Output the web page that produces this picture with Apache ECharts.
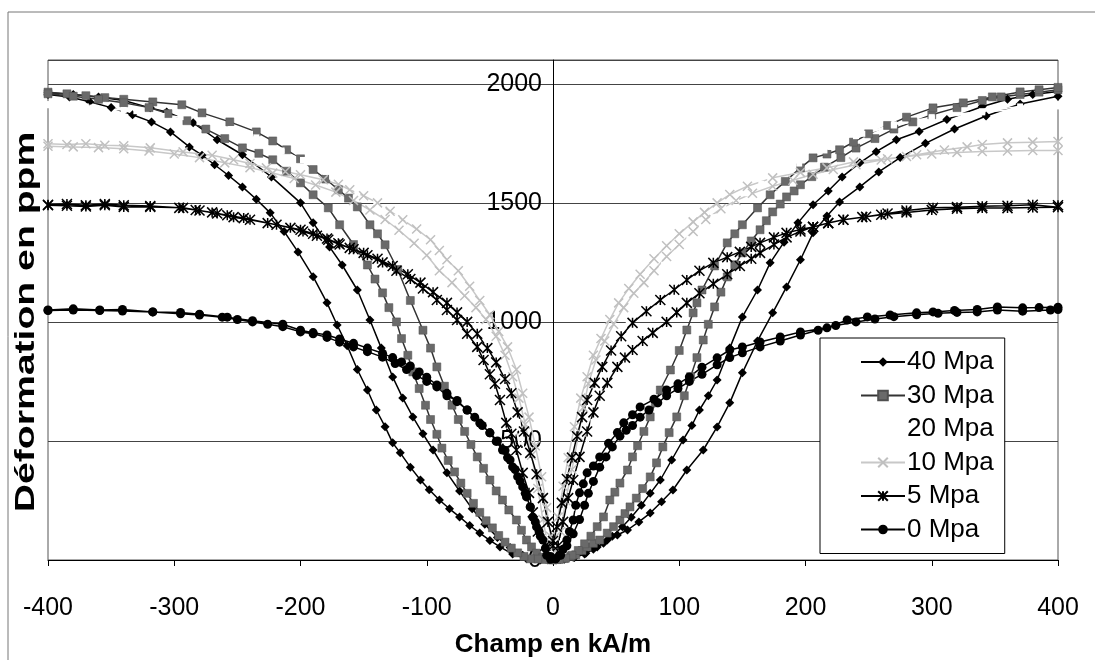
<!DOCTYPE html>
<html><head><meta charset="utf-8">
<script src="https://cdn.jsdelivr.net/npm/echarts@6/dist/echarts.min.js"></script>
<style>html,body{margin:0;padding:0;background:#fff}#c{width:1095px;height:660px}</style>
</head><body><div id="c"></div><script>
// Tick / axis definitions
const xTicks = [-400,-300,-200,-100,0,100,200,300,400];
const yTicks = [0,500,1000,1500,2000];
const seriesNames = ['40 Mpa','30 Mpa','20 Mpa','10 Mpa','5 Mpa','0 Mpa'];

// Each series: branch with increasing field (-400 -> 400) and decreasing field (400 -> -400), [H (kA/m), strain (ppm)]
const s40_up = [[-400,1962],[-380,1955],[-360,1945],[-340,1930],[-319,1899],[-306,1882],[-285,1836],[-266,1765],[-246,1702],[-223,1609],[-200,1500],[-190,1416],[-177,1315],[-167,1239],[-155,1134],[-145,1008],[-136,890],[-127,769],[-119,680],[-111,601],[-103,530],[-95,462],[-84,366],[-74,290],[-64,215],[-54,150],[-44,95],[-34,52],[-24,20],[-14,5],[-4,0],[6,3],[16,12],[26,28],[35,55],[43,84],[51,105],[59,126],[68,160],[77,197],[86,245],[95,294],[106,378],[119,462],[130,559],[140,660],[150,786],[162,920],[174,1038],[185,1147],[196,1261],[206,1374],[217,1445],[227,1504],[243,1567],[258,1630],[275,1690],[295,1750],[318,1810],[343,1865],[370,1915],[400,1948]];
const s40_down = [[400,1968],[380,1955],[360,1935],[340,1905],[312,1850],[290,1800],[272,1765],[256,1715],[243,1668],[229,1609],[218,1550],[206,1492],[194,1416],[183,1335],[172,1248],[162,1134],[150,1021],[140,890],[130,756],[123,690],[116,630],[110,565],[103,504],[94,420],[85,336],[77,280],[70,230],[62,180],[55,140],[47,100],[40,70],[32,45],[25,25],[17,10],[9,3],[0,0],[-10,0],[-21,5],[-32,25],[-42,55],[-50,82],[-58,113],[-66,145],[-74,181],[-82,215],[-90,252],[-98,295],[-105,336],[-113,390],[-121,450],[-127,492],[-133,560],[-140,630],[-147,714],[-155,800],[-163,900],[-171,987],[-179,1080],[-190,1190],[-202,1294],[-213,1380],[-224,1458],[-235,1515],[-246,1567],[-257,1615],[-268,1660],[-278,1700],[-288,1735],[-303,1798],[-318,1840],[-333,1870],[-350,1900],[-367,1925],[-383,1945],[-400,1955]];

const s30_up = [[-400,1965],[-385,1958],[-370,1950],[-355,1942],[-340,1935],[-317,1924],[-294,1912],[-278,1878],[-256,1840],[-235,1798],[-222,1760],[-211,1723],[-200,1685],[-190,1640],[-180,1600],[-170,1555],[-162,1520],[-155,1483],[-145,1408],[-139,1370],[-133,1324],[-123,1220],[-113,1090],[-103,965],[-97,890],[-92,811],[-86,730],[-80,650],[-75,590],[-70,540],[-65,485],[-60,433],[-55,385],[-50,336],[-45,290],[-40,252],[-35,210],[-29,168],[-25,125],[-21,84],[-17,55],[-13,29],[-8,12],[-3,4],[3,2],[9,6],[14,15],[18,22],[23,40],[27,55],[32,70],[37,84],[43,113],[48,140],[53,168],[57,195],[61,223],[66,260],[71,300],[77,349],[82,408],[87,475],[92,535],[98,601],[104,690],[109,770],[114,850],[119,924],[123,990],[128,1063],[133,1125],[138,1189],[144,1240],[150,1290],[157,1340],[164,1387],[169,1425],[174,1462],[180,1495],[185,1525],[191,1550],[196,1576],[205,1610],[215,1650],[228,1690],[240,1730],[255,1770],[270,1810],[285,1840],[300,1870],[320,1900],[340,1930],[355,1945],[370,1955],[385,1965],[400,1975]];
const s30_down = [[400,1985],[385,1975],[370,1966],[348,1945],[325,1920],[301,1899],[280,1860],[265,1825],[250,1790],[238,1755],[227,1723],[217,1705],[206,1689],[196,1647],[184,1590],[172,1534],[162,1479],[150,1408],[144,1370],[138,1332],[128,1235],[118,1134],[114,1080],[111,1038],[106,966],[100,880],[93,798],[85,714],[81,660],[77,601],[72,540],[67,480],[63,433],[59,378],[53,323],[49,285],[45,252],[40,181],[35,140],[30,100],[25,68],[20,40],[15,20],[10,8],[5,2],[0,0],[-6,2],[-12,4],[-18,5],[-23,15],[-28,30],[-33,50],[-38,75],[-43,103],[-48,135],[-53,165],[-58,200],[-63,238],[-68,280],[-73,323],[-78,370],[-83,418],[-88,470],[-92,528],[-97,590],[-101,650],[-106,720],[-111,790],[-115,860],[-120,930],[-124,1000],[-130,1060],[-135,1122],[-141,1180],[-147,1239],[-158,1325],[-169,1408],[-178,1479],[-190,1534],[-200,1584],[-211,1633],[-222,1681],[-233,1708],[-246,1731],[-260,1770],[-275,1810],[-290,1845],[-305,1875],[-320,1900],[-340,1920],[-360,1935],[-380,1948],[-400,1958]];

const s20_up = [[-400,1915],[-370,1905],[-340,1890],[-310,1865],[-280,1840],[-255,1810],[-235,1775],[-215,1720],[-198,1680],[-180,1630],[-160,1570],[-140,1505],[-124,1440],[-110,1370],[-95,1280],[-80,1180],[-65,1060],[-50,920],[-38,760],[-28,580],[-20,400],[-13,230],[-7,90],[0,10],[8,80],[15,220],[23,400],[32,580],[42,760],[55,930],[70,1080],[88,1220],[108,1350],[127,1440],[145,1510],[165,1580],[190,1650],[215,1720],[240,1780],[270,1825],[300,1855],[340,1880],[370,1895],[400,1905]];
const s20_down = [[400,1915],[370,1905],[340,1885],[300,1860],[270,1830],[245,1790],[220,1735],[195,1665],[172,1600],[154,1540],[135,1480],[118,1410],[102,1330],[88,1240],[74,1130],[60,1000],[48,860],[37,700],[28,530],[20,360],[13,200],[7,70],[0,5],[-8,90],[-15,230],[-22,390],[-30,560],[-40,740],[-52,900],[-66,1040],[-82,1170],[-100,1300],[-118,1410],[-135,1480],[-155,1545],[-175,1610],[-195,1670],[-215,1715],[-240,1790],[-265,1830],[-295,1860],[-330,1885],[-365,1900],[-400,1910]];

const s10_up = [[-400,1748],[-385,1745],[-370,1748],[-355,1742],[-340,1740],[-319,1731],[-293,1714],[-270,1700],[-253,1681],[-240,1665],[-227,1647],[-212,1632],[-200,1618],[-182,1597],[-170,1578],[-161,1555],[-150,1530],[-139,1500],[-129,1465],[-119,1429],[-108,1390],[-97,1345],[-90,1300],[-84,1261],[-75,1215],[-66,1150],[-58,1090],[-50,1030],[-43,960],[-36,895],[-29,800],[-24,700],[-19,600],[-14,480],[-9,350],[-5,220],[-2,100],[2,40],[6,120],[10,250],[15,380],[20,520],[24,640],[28,740],[34,840],[41,920],[48,990],[56,1060],[64,1120],[72,1165],[80,1215],[90,1275],[100,1325],[111,1380],[121,1430],[133,1475],[145,1510],[158,1540],[174,1570],[190,1595],[206,1620],[222,1640],[240,1660],[260,1680],[280,1695],[300,1705],[320,1712],[340,1716],[360,1718],[380,1720],[400,1720]];
const s10_down = [[400,1758],[380,1755],[360,1752],[340,1745],[328,1735],[310,1722],[288,1702],[265,1685],[238,1672],[217,1647],[196,1628],[174,1605],[154,1570],[140,1535],[130,1500],[120,1460],[111,1420],[100,1370],[90,1320],[80,1265],[69,1200],[60,1140],[52,1080],[45,1010],[38,930],[32,860],[27,770],[22,680],[17,560],[12,430],[8,310],[4,180],[0,60],[-4,60],[-8,170],[-12,300],[-17,440],[-22,570],[-27,680],[-32,770],[-38,860],[-45,940],[-53,1010],[-61,1060],[-70,1110],[-80,1165],[-90,1215],[-100,1280],[-110,1330],[-122,1385],[-133,1430],[-145,1470],[-158,1510],[-172,1545],[-188,1575],[-205,1602],[-222,1625],[-240,1648],[-260,1668],[-280,1690],[-300,1705],[-320,1718],[-340,1727],[-360,1732],[-380,1735],[-400,1738]];

const s5_up = [[-400,1490],[-385,1488],[-370,1485],[-355,1490],[-340,1483],[-319,1483],[-293,1479],[-280,1468],[-266,1455],[-253,1440],[-240,1429],[-219,1408],[-200,1387],[-190,1370],[-179,1350],[-170,1330],[-161,1311],[-150,1290],[-139,1265],[-127,1235],[-115,1200],[-105,1165],[-95,1125],[-84,1080],[-76,1040],[-68,1000],[-60,950],[-52,890],[-45,830],[-38,760],[-33,700],[-28,620],[-23,540],[-18,450],[-13,360],[-8,260],[-4,160],[0,80],[4,60],[8,160],[12,260],[16,336],[21,433],[27,540],[32,620],[37,690],[43,744],[51,811],[57,850],[63,882],[71,920],[79,954],[90,1000],[98,1040],[106,1080],[116,1120],[127,1160],[138,1200],[148,1235],[157,1265],[164,1290],[175,1325],[185,1355],[196,1380],[206,1399],[218,1415],[230,1429],[245,1440],[260,1450],[280,1460],[300,1470],[320,1475],[340,1478],[360,1478],[380,1480],[400,1482]];
const s5_down = [[400,1490],[380,1492],[360,1488],[340,1486],[320,1482],[301,1479],[280,1468],[265,1455],[248,1442],[230,1429],[218,1415],[206,1399],[196,1388],[185,1374],[175,1355],[164,1332],[157,1315],[148,1294],[138,1272],[127,1248],[116,1215],[106,1176],[96,1135],[85,1092],[74,1045],[63,996],[54,940],[46,880],[39,811],[33,744],[27,672],[23,600],[19,520],[15,430],[11,340],[7,240],[3,140],[0,60],[-6,60],[-12,120],[-16,200],[-19,282],[-24,366],[-29,462],[-33,530],[-37,576],[-42,672],[-46,740],[-50,780],[-55,840],[-60,895],[-68,950],[-76,1008],[-84,1050],[-92,1092],[-103,1140],[-113,1180],[-124,1215],[-135,1250],[-147,1280],[-158,1305],[-169,1325],[-178,1345],[-187,1362],[-198,1380],[-208,1395],[-226,1415],[-245,1436],[-258,1448],[-270,1460],[-283,1470],[-296,1479],[-319,1487],[-340,1490],[-355,1495],[-370,1490],[-385,1495],[-400,1492]];

const s0_up = [[-400,1050],[-380,1055],[-359,1050],[-341,1052],[-317,1042],[-295,1040],[-280,1032],[-258,1020],[-238,1005],[-214,990],[-200,965],[-190,955],[-179,945],[-169,928],[-158,910],[-147,890],[-135,868],[-127,850],[-120,832],[-113,815],[-106,790],[-100,768],[-92,735],[-84,700],[-76,665],[-68,630],[-62,600],[-56,565],[-50,534],[-44,500],[-38,460],[-34,420],[-30,380],[-26,330],[-22,280],[-18,223],[-14,160],[-10,100],[-6,50],[-2,15],[2,5],[6,20],[11,60],[16,110],[21,170],[25,230],[28,280],[32,330],[37,390],[42,433],[47,475],[53,520],[58,545],[63,565],[69,600],[76,630],[83,660],[90,690],[99,720],[108,750],[118,780],[130,820],[140,850],[150,870],[164,895],[180,920],[196,945],[210,965],[224,985],[240,1000],[255,1012],[270,1022],[288,1030],[305,1036],[320,1040],[336,1042],[352,1050],[372,1045],[394,1050],[400,1052]];
const s0_down = [[400,1062],[385,1060],[372,1059],[352,1063],[336,1052],[318,1048],[301,1042],[288,1038],[267,1029],[249,1021],[233,1008],[217,975],[196,958],[180,937],[164,916],[150,895],[140,882],[130,849],[118,810],[108,769],[99,740],[90,714],[80,675],[69,643],[63,610],[56,576],[51,535],[44,490],[37,433],[32,395],[27,366],[24,320],[21,282],[18,230],[16,168],[13,120],[11,84],[8,45],[5,20],[2,5],[-2,3],[-5,20],[-8,84],[-11,120],[-13,139],[-16,180],[-18,223],[-21,265],[-24,307],[-28,350],[-32,391],[-36,430],[-40,462],[-45,498],[-50,534],[-58,575],[-68,630],[-76,670],[-84,690],[-92,727],[-100,750],[-108,775],[-116,800],[-125,825],[-135,852],[-147,875],[-158,895],[-169,915],[-179,935],[-190,950],[-200,958],[-214,980],[-226,990],[-238,1000],[-250,1010],[-262,1020],[-280,1029],[-295,1034],[-317,1042],[-341,1046],[-359,1048],[-380,1050],[-400,1048]];

const FONT = '"Liberation Sans", Arial, sans-serif';
const X_SYM = 'path://M0,0L10,10M10,0L0,10';
const STAR_SYM = 'path://M0,0L10,10M10,0L0,10M5,0L5,10';

function mk(name, up, down, symbol, size, fill, stroke, lineColor, bw) {
  return {
    name: name, type: 'line', data: up.concat(down),
    symbol: symbol, symbolSize: size, showSymbol: true,
    lineStyle: { color: lineColor, width: 1.5 },
    itemStyle: { color: fill, borderColor: stroke, borderWidth: bw },
    emphasis: { disabled: true }, animation: false, clip: true
  };
}

const series = [
  mk(seriesNames[0], s40_up, s40_down, 'diamond', 9, '#000', '#000', '#000', 0),
  mk(seriesNames[1], s30_up, s30_down, 'rect', 8, '#6a6a6a', '#505050', '#333', 0.5),
  mk(seriesNames[2], s20_up, s20_down, 'rect', 6, '#fff', '#fff', '#fff', 0),
  mk(seriesNames[3], s10_up, s10_down, X_SYM, 9, 'none', '#c0c0c0', '#c8c8c8', 1.5),
  mk(seriesNames[4], s5_up, s5_down, STAR_SYM, 10, 'none', '#000', '#000', 1.5),
  mk(seriesNames[5], s0_up, s0_down, 'circle', 9, '#000', '#000', '#000', 0)
];

const chart = echarts.init(document.getElementById('c'), null, { renderer: 'canvas' });
chart.setOption({
  backgroundColor: '#fff',
  animation: false,
  grid: { left: 48, right: 37, top: 60, bottom: 100, show: true, borderColor: '#555', borderWidth: 1,
          containLabel: false, outerBoundsMode: 'none' },
  xAxis: {
    type: 'value', min: xTicks[0], max: xTicks[xTicks.length - 1], interval: 100,
    axisLine: { onZero: false, lineStyle: { color: '#000', width: 1 } },
    axisTick: { show: true, length: 6, lineStyle: { color: '#000' } },
    axisLabel: { fontSize: 25, color: '#000', fontFamily: FONT, margin: 36 },
    splitLine: { show: false }
  },
  yAxis: {
    type: 'value', min: yTicks[0], max: 2100, interval: 500, position: 'left', offset: -505,
    axisLine: { show: true, onZero: false, lineStyle: { color: '#000', width: 1 } },
    axisTick: { show: false },
    axisLabel: { fontSize: 25, color: '#000', fontFamily: FONT, margin: 11, showMaxLabel: false,
      formatter: v => (yTicks.indexOf(v) >= 0 ? String(v) : '') },
    splitLine: { show: true, lineStyle: { color: '#444', width: 1 } }
  },
  legend: {
    data: seriesNames, orient: 'vertical', left: 820, top: 338,
    backgroundColor: '#fff', borderColor: '#000', borderWidth: 1,
    padding: [11, 11, 11, 40], itemGap: 7.5, itemWidth: 44, itemHeight: 12,
    textStyle: { fontSize: 26, color: '#000', fontFamily: FONT, padding: [0, 0, 0, -3] },
    selectedMode: false
  },
  graphic: [
    { type: 'rect', silent: true, shape: { x: 8, y: 12, width: 1200, height: 800 }, style: { fill: 'none', stroke: '#777', lineWidth: 1 } },
    { type: 'text', silent: true, x: 553, y: 645, style: { text: 'Champ en kA/m', font: 'bold 26px ' + FONT, align: 'center', verticalAlign: 'middle', fill: '#000' } },
    { type: 'text', silent: true, x: 27, y: 322, rotation: Math.PI / 2, scaleX: 1.45, style: { text: 'Déformation en ppm', font: 'bold 27px ' + FONT, align: 'center', verticalAlign: 'middle', fill: '#000' } }
  ],
  series: series
});
</script></body></html>
